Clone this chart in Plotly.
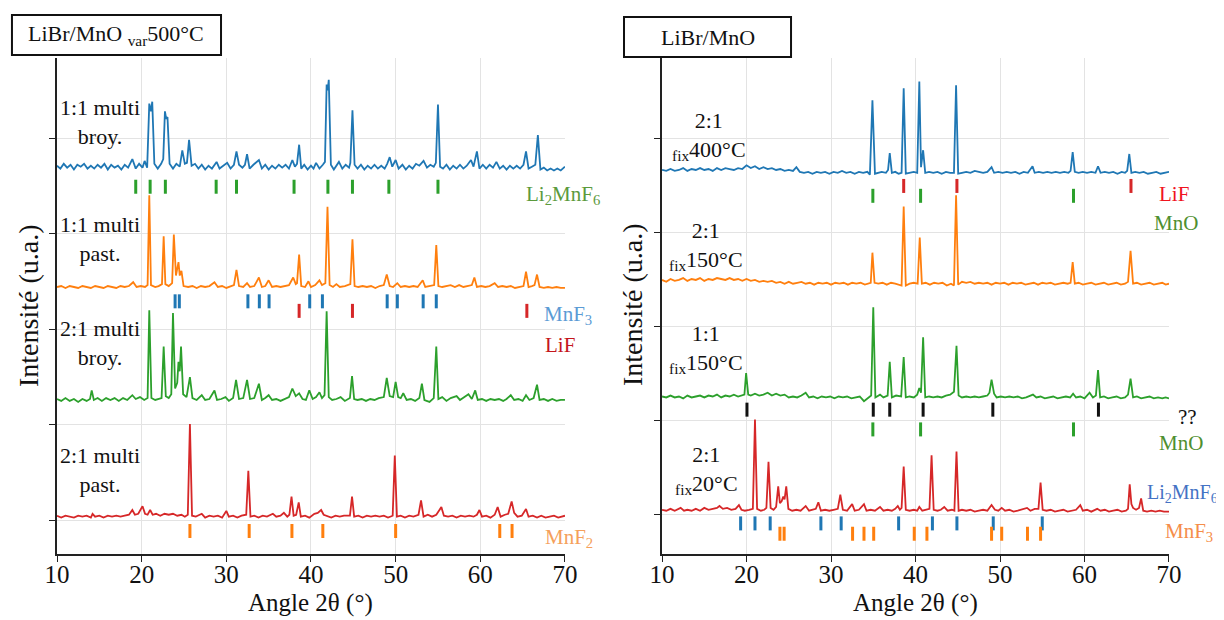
import plotly.graph_objects as go

# ---------------- data (2theta, intensity relative to each pattern's own baseline) -------------
# Left panel: LiBr/MnO var 500°C
L_11_BROY = [(10.0,.01),(10.4,-.02),(10.8,.03),(11.2,-.01),(11.6,.02),(12.0,-.03),(12.4,.02),(12.8,0),(13.2,.03),(13.6,-.02),
 (14.0,.01),(14.4,-.02),(14.8,.02),(15.2,-.01),(15.6,.03),(16.0,-.03),(16.4,.02),(16.8,-.01),(17.2,.01),(17.6,-.03),(18.0,.02),
 (18.4,-.01),(18.9,.08),(19.3,-.02),(19.7,.03),(20.1,-.01),(20.35,.06),(20.65,-.01),(20.9,.66),(21.1,.58),(21.25,.68),(21.5,.03),
 (21.9,-.02),(22.3,.03),(22.55,.08),(22.75,.58),(22.9,.50),(23.05,.52),(23.3,.03),(23.7,-.02),(24.1,.03),(24.5,0),(24.8,.17),
 (25.1,.03),(25.35,.04),(25.6,.28),(25.9,.01),(26.3,.03),(26.7,-.02),(27.1,.02),(27.5,-.03),(27.9,.01),(28.3,-.02),(28.85,.05),
 (29.2,-.02),(29.6,.01),(30.1,.04),(30.5,-.02),(30.9,.02),(31.2,.16),(31.5,.02),(31.9,-.01),(32.2,.02),(32.45,.13),(32.75,-.02),
 (33.2,.02),(33.85,.07),(34.2,-.02),(34.6,.02),(35.0,-.03),(35.4,.01),(35.8,-.02),(36.2,.02),(36.6,-.01),(37.0,.02),(37.4,-.02),
 (37.8,.07),(38.1,0),(38.35,.03),(38.6,.23),(38.85,-.02),(39.2,.02),(39.6,-.03),(40.0,.01),(40.3,-.02),(40.6,.04),(41.0,-.02),
 (41.4,.02),(41.65,.05),(41.85,.86),(41.98,.80),(42.1,.91),(42.35,.02),(42.7,-.03),(43.0,.01),(43.3,.05),(43.7,-.02),(44.1,.02),
 (44.5,-.01),(44.65,.04),(44.9,.59),(45.15,.02),(45.5,-.02),(45.9,.02),(46.3,-.03),(46.7,.01),(47.1,-.02),(47.5,.02),(47.9,-.02),
 (48.3,.01),(48.7,-.02),(49.0,.03),(49.3,.10),(49.6,0),(50.0,.07),(50.35,-.02),(50.8,.02),(51.2,-.03),(51.6,.01),(52.0,-.02),
 (52.4,.03),(52.8,.01),(53.3,.06),(53.7,-.01),(54.1,.02),(54.5,0),(54.75,.04),(55.0,.65),(55.25,0),(55.6,-.02),(56.0,.02),
 (56.4,-.03),(56.8,.01),(57.2,-.02),(57.6,.02),(58.0,-.02),(58.4,.01),(58.9,.07),(59.2,0),(59.6,.16),(59.9,-.02),(60.3,.02),
 (60.7,-.02),(61.1,.02),(61.5,-.01),(61.9,.05),(62.3,-.02),(62.7,.01),(63.1,-.03),(63.5,.01),(63.9,-.02),(64.3,.01),(64.7,-.02),
 (65.1,.02),(65.4,.16),(65.7,-.02),(66.1,0),(66.5,.02),(66.8,.33),(67.1,-.03),(67.5,-.01),(67.9,-.04),(68.3,-.02),(68.7,-.04),
 (69.1,-.02),(69.5,-.04),(70.0,0)]

L_11_PAST = [(10.0,0),(10.5,.01),(11.0,-.01),(11.5,.01),(12.0,0),(12.5,-.01),(13.0,.01),(13.5,0),(14.0,-.01),(14.5,.01),(15.0,0),
 (15.5,-.01),(16.0,.01),(16.5,0),(17.0,-.01),(17.5,.01),(18.0,0),(18.5,.01),(19.0,.05),(19.4,0),(19.9,.01),(20.4,0),(20.7,.02),
 (20.9,.96),(21.1,.02),(21.6,0),(22.0,.01),(22.4,.03),(22.6,.53),(22.8,.03),(23.2,.01),(23.6,.04),(23.8,.55),(24.05,.12),
 (24.35,.26),(24.5,.12),(24.7,.17),(24.95,.01),(25.5,0),(26.0,.01),(26.5,-.01),(27.0,.01),(27.5,0),(28.0,.01),(28.6,.05),(29.0,0),
 (29.5,.01),(30.0,-.01),(30.5,.01),(30.9,.02),(31.2,.18),(31.5,.01),(32.0,0),(32.45,.04),(32.8,0),(33.3,.01),(33.85,.10),(34.2,0),
 (34.6,.01),(35.0,.07),(35.4,0),(35.9,.01),(36.4,0),(36.9,.01),(37.4,.02),(37.9,.10),(38.2,.03),(38.35,.04),(38.6,.34),(38.85,.01),
 (39.3,0),(39.7,.06),(40.0,0),(40.5,.02),(41.0,.07),(41.3,.02),(41.7,.04),(41.95,.84),(42.2,.02),(42.6,0),(43.0,.03),(43.4,0),
 (44.0,.01),(44.65,.03),(44.9,.50),(45.15,.01),(45.6,0),(46.1,.01),(46.6,0),(47.1,.01),(47.6,-.01),(48.1,.01),(48.6,.02),
 (48.95,.13),(49.3,.01),(49.7,0),(50.2,.04),(50.6,0),(51.1,.01),(51.6,0),(52.1,.01),(52.6,0),(53.2,.07),(53.5,0),(54.0,.01),
 (54.55,.02),(54.8,.44),(55.05,.01),(55.5,0),(56.0,.01),(56.5,.02),(57.0,0),(57.5,.02),(58.0,0),(58.5,.01),(59.0,.02),(59.3,.10),
 (59.6,0),(60.1,.01),(60.6,0),(61.1,.01),(61.7,.04),(62.1,0),(62.6,.01),(63.1,0),(63.6,.01),(64.1,-.01),(64.6,0),(65.1,.01),
 (65.4,.16),(65.7,0),(66.1,.01),(66.4,.02),(66.7,.13),(67.0,0),(67.5,-.01),(68.0,0),(68.5,-.01),(69.0,0),(69.5,-.01),(70.0,-.01)]

L_21_BROY = [(10.0,.01),(10.5,-.01),(11.0,.02),(11.5,-.01),(12.0,.01),(12.5,-.02),(13.0,.01),(13.5,-.01),(13.9,.01),(14.1,.10),
 (14.35,0),(14.8,.02),(15.3,-.01),(15.8,.02),(16.3,0),(16.8,.02),(17.3,-.01),(17.8,.02),(18.3,0),(18.9,.05),(19.3,.01),(19.8,.03),
 (20.3,0),(20.7,.02),(20.9,.94),(21.15,.02),(21.6,0),(22.0,.01),(22.35,.02),(22.6,.56),(22.85,.04),(23.2,.02),(23.5,.06),(23.7,.91),
 (23.95,.12),(24.2,.18),(24.35,.40),(24.5,.30),(24.65,.56),(24.9,.06),(25.3,.03),(25.7,.24),(26.0,.02),(26.5,0),(27.1,.05),(27.5,0),
 (28.0,.01),(28.6,.10),(28.9,0),(29.4,.01),(29.9,.03),(30.3,-.01),(30.8,.02),(31.15,.21),(31.5,.01),(32.0,.02),(32.45,.21),
 (32.8,.01),(33.3,.02),(33.85,.17),(34.2,0),(34.6,.02),(35.0,.05),(35.4,0),(35.9,.01),(36.4,-.01),(36.9,.01),(37.4,.03),(37.8,.12),
 (38.2,.04),(38.6,.07),(39.0,.01),(39.4,0),(39.8,.10),(40.2,.01),(40.6,.03),(41.0,.08),(41.3,.02),(41.6,.05),(41.85,.93),(42.1,.03),
 (42.5,0),(43.0,.01),(43.5,.03),(44.0,-.01),(44.6,.02),(44.85,.25),(45.1,.01),(45.5,0),(46.0,.01),(46.5,-.01),(47.0,.01),(47.5,0),
 (48.0,.02),(48.6,.03),(48.95,.23),(49.3,.04),(49.7,.03),(50.0,.19),(50.3,.03),(50.6,.02),(50.9,.07),(51.3,0),(51.8,.01),
 (52.3,-.01),(52.8,.02),(53.1,.17),(53.4,0),(54.0,-.02),(54.5,.02),(54.8,.56),(55.05,.01),(55.5,.03),(56.0,-.01),(56.5,.02),
 (57.2,.04),(57.6,0),(58.1,.03),(58.6,.06),(59.0,.01),(59.4,.10),(59.7,0),(60.2,.01),(60.7,-.01),(61.2,.01),(61.7,0),(62.2,.01),
 (62.7,-.01),(63.1,.01),(63.6,.05),(64.0,0),(64.5,.01),(65.0,-.01),(65.4,.05),(65.8,0),(66.3,.02),(66.7,.16),(67.0,0),(67.5,.01),
 (68.0,-.01),(68.5,.01),(69.0,-.01),(69.5,0),(70.0,0)]

L_21_PAST = [(10.0,.01),(10.5,-.01),(11.0,.01),(11.5,0),(12.0,-.01),(12.5,.01),(13.0,0),(13.5,.01),(14.0,-.01),(14.2,.03),(14.5,0),
 (15.0,.01),(15.5,-.01),(16.0,.01),(16.5,0),(17.0,.01),(17.5,0),(18.0,.01),(18.5,.02),(18.9,.07),(19.2,.02),(19.6,.03),(20.1,.11),
 (20.4,.03),(20.7,.02),(21.0,.07),(21.3,.02),(21.7,.03),(22.2,.01),(22.7,.03),(23.2,.02),(23.7,.03),(24.2,.01),(24.7,.02),(25.1,0),
 (25.45,.02),(25.7,.97),(25.95,.01),(26.4,0),(27.1,.03),(27.5,-.01),(28.0,.01),(28.5,0),(29.0,.01),(29.5,-.01),(30.0,.06),(30.3,0),
 (30.8,.01),(31.3,-.01),(31.8,.01),(32.35,.02),(32.6,.48),(32.85,0),(33.3,.01),(33.8,-.01),(34.3,.01),(34.8,0),(35.5,.03),(35.9,0),
 (36.4,.01),(36.8,.04),(37.2,0),(37.45,.02),(37.7,.21),(37.95,.01),(38.25,.02),(38.55,.15),(38.8,0),(39.3,.01),(39.8,-.01),
 (40.4,.03),(40.8,.04),(41.2,.07),(41.5,.02),(41.9,.01),(42.4,-.01),(42.9,.01),(43.4,0),(43.9,.01),(44.6,.01),(44.85,.21),(45.1,0),
 (45.6,.01),(46.1,-.01),(46.6,.01),(47.1,0),(47.6,.01),(48.1,0),(48.6,.01),(49.1,-.01),(49.65,.01),(49.9,.64),(50.15,0),(50.6,.01),
 (51.1,-.01),(51.6,.01),(52.1,0),(52.7,.02),(53.0,.17),(53.3,0),(53.8,.02),(54.3,0),(54.8,.02),(55.4,.10),(55.7,.01),(56.2,0),
 (56.7,.01),(57.2,-.01),(57.7,.01),(58.2,0),(58.7,.01),(59.2,0),(59.6,.02),(59.9,.07),(60.2,0),(60.7,.01),(61.2,-.01),(61.7,.02),
 (62.05,.10),(62.4,0),(62.9,.02),(63.3,.03),(63.7,.16),(64.0,.04),(64.4,0),(64.9,.01),(65.4,.08),(65.7,0),(66.2,.01),(66.7,-.01),
 (67.2,.01),(67.7,-.01),(68.2,0),(68.7,.01),(69.2,-.01),(69.6,0),(70.0,.01)]

# Right panel: LiBr/MnO
R_21_400 = [(10.0,.03),(10.5,.02),(11.0,.04),(11.5,.02),(12.0,.03),(12.5,.05),(13.0,.02),(13.5,.04),(14.0,.03),(14.5,.05),
 (15.0,.03),(15.5,.04),(16.0,.02),(16.5,.05),(17.0,.03),(17.5,.05),(18.0,.04),(18.5,.03),(19.0,.05),(19.5,.04),(20.0,.08),
 (20.5,.05),(21.0,.07),(21.5,.04),(22.0,.06),(22.5,.04),(23.0,.05),(23.5,.03),(24.0,.04),(24.5,.02),(25.0,.03),(25.5,.02),
 (25.9,.06),(26.3,.01),(26.8,0),(27.3,.01),(27.8,-.01),(28.3,.01),(28.8,0),(29.3,.01),(29.8,-.01),(30.3,.01),(30.8,0),(31.3,.02),
 (31.8,0),(32.3,.01),(32.8,-.01),(33.3,.01),(33.8,0),(34.3,.01),(34.6,-.02),(34.9,.77),(35.2,-.01),(35.6,0),(36.0,.01),(36.5,0),
 (36.75,.03),(36.95,.21),(37.2,0),(37.6,.01),(38.0,-.01),(38.35,0),(38.6,.90),(38.85,-.01),(39.3,0),(39.8,.01),(40.2,0),
 (40.45,.97),(40.65,.06),(40.9,.24),(41.15,0),(41.6,.01),(42.1,0),(42.6,.01),(43.1,-.01),(43.6,.01),(44.1,0),(44.55,0),(44.8,.93),
 (45.05,-.01),(45.5,0),(46.0,.01),(46.5,0),(47.0,.02),(47.5,.01),(48.0,0),(48.5,.01),(49.0,.06),(49.3,0),(49.8,.01),(50.3,0),
 (50.8,.01),(51.3,0),(51.8,.01),(52.3,-.01),(52.8,.01),(53.3,0),(53.85,.07),(54.1,0),(54.6,.01),(55.1,0),(55.6,.01),(56.1,0),
 (56.6,.01),(57.1,0),(57.6,.01),(58.1,0),(58.35,.02),(58.6,.22),(58.85,.01),(59.3,0),(59.8,.01),(60.3,0),(60.8,.01),(61.3,0),
 (61.6,.07),(61.9,0),(62.4,.01),(62.9,0),(63.4,.01),(63.9,-.01),(64.4,.01),(64.8,0),(65.05,.02),(65.3,.20),(65.55,0),(66.0,.01),
 (66.5,0),(67.0,.01),(67.5,-.01),(68.0,0),(68.5,.01),(69.0,-.01),(69.5,0),(70.0,.01)]

R_21_150 = [(10.0,.04),(10.5,.02),(11.0,.05),(11.5,.03),(12.0,.04),(12.5,.06),(13.0,.03),(13.5,.05),(14.0,.04),(14.5,.06),
 (15.0,.03),(15.5,.05),(16.0,.04),(16.5,.06),(17.0,.05),(17.5,.04),(18.0,.06),(18.5,.04),(19.0,.05),(19.5,.03),(20.0,.05),
 (20.5,.03),(21.0,.04),(21.5,.02),(22.0,.03),(22.5,.02),(23.0,.03),(23.5,.01),(24.0,.02),(24.5,0),(25.0,.02),(25.5,0),(26.0,.01),
 (26.5,.02),(27.0,0),(27.5,.01),(28.0,-.01),(28.5,.01),(29.0,0),(29.5,.01),(30.0,-.01),(30.5,.01),(31.0,0),(31.5,.01),(32.0,-.01),
 (32.5,.01),(33.0,0),(33.5,.01),(34.0,-.01),(34.5,0),(34.7,.01),(34.9,.33),(35.15,.01),(35.6,0),(36.1,.01),(36.6,-.01),(37.1,.01),
 (37.6,0),(38.1,-.01),(38.35,-.02),(38.6,.82),(38.85,-.02),(39.3,0),(39.8,.01),(40.25,0),(40.5,.49),(40.75,0),(41.2,.01),
 (41.7,-.01),(42.2,.01),(42.7,0),(43.2,.01),(43.7,-.02),(44.2,0),(44.55,-.02),(44.8,.94),(45.05,-.01),(45.5,.02),(46.0,.01),
 (46.5,.02),(47.0,0),(47.5,.01),(48.0,0),(48.5,.01),(49.0,-.01),(49.5,.01),(50.0,0),(50.5,.01),(51.0,-.01),(51.5,.01),(52.0,0),
 (52.5,.01),(53.0,-.01),(53.5,0),(54.0,.01),(54.5,-.01),(55.0,.01),(55.5,0),(56.0,.01),(56.5,-.01),(57.0,0),(57.5,.01),(58.0,0),
 (58.35,.01),(58.6,.23),(58.85,0),(59.3,.01),(59.8,-.01),(60.3,0),(60.8,.01),(61.3,-.01),(61.8,0),(62.3,.01),(62.8,-.01),(63.3,0),
 (63.8,.01),(64.3,-.01),(64.8,0),(65.15,.02),(65.45,.35),(65.75,0),(66.2,.01),(66.7,-.01),(67.2,0),(67.7,.01),(68.2,-.01),
 (68.7,0),(69.2,.01),(69.6,-.01),(70.0,0)]

R_11_150 = [(10.0,.01),(10.5,0),(11.0,.02),(11.5,0),(12.0,.01),(12.5,-.01),(13.0,.02),(13.5,0),(14.0,.01),(14.5,.02),(15.0,0),
 (15.5,.02),(16.0,.01),(16.5,.03),(17.0,0),(17.5,.02),(18.0,.01),(18.5,.03),(19.0,.01),(19.5,.02),(19.75,.03),(19.95,.26),
 (20.2,.03),(20.5,.02),(21.0,.04),(21.5,.02),(22.0,.03),(22.5,.05),(23.0,.02),(23.5,.04),(24.0,.02),(24.5,.03),(25.0,0),(25.5,.01),
 (26.0,0),(26.5,.02),(27.0,.05),(27.4,0),(27.9,.01),(28.4,-.01),(28.9,.01),(29.4,0),(29.9,.01),(30.4,-.01),(30.9,.01),(31.4,0),
 (31.9,.01),(32.4,-.01),(32.9,0),(33.4,.01),(33.9,-.04),(34.3,-.01),(34.75,.02),(35.0,.96),(35.25,0),(35.8,.03),(36.2,0),
 (36.7,.02),(36.95,.38),(37.2,0),(37.7,.02),(38.3,.01),(38.6,.43),(38.85,0),(39.3,.01),(39.8,0),(40.2,.03),(40.45,.10),(40.65,.05),
 (40.9,.64),(41.15,0),(41.6,.01),(42.1,0),(42.6,.01),(43.1,0),(43.6,.02),(44.1,.03),(44.55,.06),(44.85,.55),(45.1,.02),(45.5,0),
 (46.0,.01),(46.5,0),(47.0,.01),(47.5,0),(48.0,.01),(48.5,.02),(48.75,.05),(49.0,.19),(49.3,.04),(49.6,0),(50.1,.01),(50.6,0),
 (51.1,.01),(51.6,0),(52.1,.01),(52.6,-.01),(53.1,0),(53.9,.03),(54.3,0),(54.8,.01),(55.3,-.01),(55.8,0),(56.3,.01),(56.8,-.01),
 (57.3,0),(57.8,.01),(58.3,0),(58.65,.04),(59.0,0),(59.5,.01),(60.0,-.01),(60.6,.05),(61.0,0),(61.35,.02),(61.6,.29),(61.85,0),
 (62.3,.01),(62.8,-.01),(63.3,0),(63.8,.01),(64.3,-.01),(64.8,0),(65.15,.03),(65.45,.20),(65.75,0),(66.2,.01),(66.7,-.01),
 (67.2,0),(67.7,.01),(68.2,-.01),(68.7,0),(69.2,-.01),(69.6,0),(70.0,-.01)]

R_21_20 = [(10.0,.01),(10.5,0),(11.0,.02),(11.5,0),(12.2,.03),(12.6,0),(13.0,.01),(13.5,0),(14.0,.02),(14.5,0),(15.0,.03),
 (15.5,.01),(16.0,.02),(16.5,.03),(16.8,.05),(17.2,.02),(17.7,.03),(18.2,.01),(18.7,.02),(19.1,.06),(19.4,.01),(19.8,0),(20.3,.01),
 (20.75,.02),(21.0,.97),(21.25,.02),(21.7,0),(22.1,.01),(22.35,.03),(22.6,.52),(22.85,.03),(23.2,.01),(23.5,.04),(23.75,.26),
 (23.95,.08),(24.15,.10),(24.35,.15),(24.5,.12),(24.7,.26),(24.95,.02),(25.4,0),(25.9,.01),(26.4,0),(27.0,.05),(27.4,0),(27.9,.01),
 (28.2,.02),(28.5,.09),(28.8,0),(29.3,.01),(29.8,0),(30.3,.01),(30.8,.02),(31.1,.17),(31.4,.01),(31.9,0),(32.5,.07),(32.8,0),
 (33.3,.01),(33.9,.07),(34.2,0),(34.7,.01),(35.2,0),(35.8,.04),(36.2,0),(36.7,.01),(37.2,0),(37.6,.02),(37.9,.05),(38.15,.01),
 (38.35,.03),(38.6,.47),(38.85,.01),(39.3,0),(39.8,.01),(40.2,0),(40.45,.04),(40.8,0),(41.3,.01),(41.65,.02),(41.9,.59),
 (42.15,.01),(42.6,0),(43.0,.01),(43.4,.04),(43.8,0),(44.3,.01),(44.6,0),(44.85,.63),(45.1,0),(45.5,.01),(46.0,0),(46.5,.01),
 (47.0,-.01),(47.5,0),(48.0,.01),(48.5,0),(49.0,.06),(49.4,.01),(49.8,0),(50.2,.03),(50.6,0),(51.1,.01),(51.6,-.01),(52.1,0),
 (52.6,.01),(53.2,.03),(53.6,0),(54.1,.02),(54.55,.02),(54.8,.30),(55.05,.01),(55.5,0),(56.0,.01),(56.5,-.01),(57.0,0),(57.5,.01),
 (58.0,-.01),(58.5,0),(59.0,.01),(59.5,.06),(59.8,0),(60.3,.01),(60.8,-.01),(61.5,.02),(61.9,0),(62.4,.01),(62.9,-.01),(63.4,0),
 (63.9,.01),(64.4,-.01),(64.9,0),(65.15,.02),(65.35,.28),(65.55,.07),(65.75,.03),(66.1,.01),(66.45,.03),(66.7,.13),(66.95,0),
 (67.4,-.01),(67.9,0),(68.4,-.01),(68.9,0),(69.4,-.01),(70.0,-.01)]

# Reference phase positions (2theta)
LI2MNF6 = [19.3, 21.0, 22.8, 28.8, 31.2, 38.0, 42.0, 44.9, 49.2, 55.0]
MNF3 = [23.95, 24.45, 32.55, 33.9, 35.05, 39.85, 41.35, 49.0, 50.2, 53.25, 54.8]
LIF = [38.6, 44.9, 65.5]
MNF2 = [25.7, 32.7, 37.75, 41.4, 50.0, 62.3, 63.75]
MNO = [34.95, 40.6, 58.7]
UNKNOWN = [20.05, 35.0, 36.95, 40.9, 49.15, 61.65]

X_TICKS = [10, 20, 30, 40, 50, 60, 70]

# ---------------- styling / layout ----------------
BLUE, ORANGE, GREEN, RED = "#1f77b4", "#ff7f0e", "#2ca02c", "#d62728"
FONT = "Liberation Serif, DejaVu Serif, serif"

fig = go.Figure()

def add_pattern(pts, color, offset, xa, ya):
    fig.add_trace(go.Scatter(x=[p[0] for p in pts], y=[p[1] + offset for p in pts], mode="lines",
                             line=dict(color=color, width=1.8), xaxis=xa, yaxis=ya,
                             showlegend=False, hoverinfo="skip"))

def add_phase(positions, level, color, xa, ya):
    fig.add_trace(go.Scatter(x=positions, y=[level] * len(positions), mode="markers",
                             marker=dict(symbol="line-ns", size=10, line=dict(color=color, width=3)),
                             xaxis=xa, yaxis=ya, showlegend=False, hoverinfo="skip"))

# left panel
add_pattern(L_11_BROY, BLUE, 3.70, "x", "y")
add_pattern(L_11_PAST, ORANGE, 2.44, "x", "y")
add_pattern(L_21_BROY, GREEN, 1.257, "x", "y")
add_pattern(L_21_PAST, RED, 0.035, "x", "y")
add_phase(LI2MNF6, 3.49, GREEN, "x", "y")
add_phase(MNF3, 2.29, BLUE, "x", "y")
add_phase(LIF, 2.19, RED, "x", "y")
add_phase(MNF2, -0.115, ORANGE, "x", "y")

# right panel
add_pattern(R_21_400, BLUE, 3.63, "x2", "y2")
add_pattern(R_21_150, ORANGE, 2.45, "x2", "y2")
add_pattern(R_11_150, GREEN, 1.24, "x2", "y2")
add_pattern(R_21_20, RED, 0.035, "x2", "y2")
add_phase(LIF, 3.49, RED, "x2", "y2")
add_phase(MNO, 3.385, GREEN, "x2", "y2")
add_phase(UNKNOWN, 1.11, "#111111", "x2", "y2")
add_phase(MNO, 0.90, GREEN, "x2", "y2")
add_phase(LI2MNF6, -0.10, BLUE, "x2", "y2")
add_phase(MNF3, -0.21, ORANGE, "x2", "y2")

axis_common = dict(showline=True, linecolor="#222", linewidth=1.6, mirror=False, zeroline=False,
                   showgrid=True, gridcolor="#e3e3e3", gridwidth=1, ticks="outside", tickcolor="#222",
                   ticklen=6, tickwidth=1.4)
xcommon = dict(axis_common, range=[10, 70], tickvals=X_TICKS, ticktext=[str(v) for v in X_TICKS],
               tickfont=dict(family=FONT, size=25, color="#111"), ticklabelstandoff=-9)
ycommon = dict(axis_common, tickvals=[0, 1, 2, 3, 4], showticklabels=False)

# the page body adds an 8px margin, so the figure is sized/offset to compensate
fig.update_layout(
    width=1216, height=612,
    margin=dict(l=49, r=55, t=50, b=66),
    paper_bgcolor="white", plot_bgcolor="white",
    font=dict(family=FONT, color="#111"),
    xaxis=dict(xcommon, domain=[0, 0.4568], anchor="y"),
    yaxis=dict(ycommon, domain=[0, 1], anchor="x", range=[-0.356, 4.838]),
    xaxis2=dict(xcommon, domain=[0.5441, 1.0], anchor="y2"),
    yaxis2=dict(ycommon, domain=[0, 1], anchor="x2", range=[-0.4255, 4.851]),
)

ann = []
def label(text, x, y, xref, yref, color="#111", size=22, xanchor="center", **kw):
    ann.append(dict(text=text, x=x, y=y, xref=xref, yref=yref, showarrow=False,
                    font=dict(family=FONT, size=size, color=color), xanchor=xanchor, yanchor="middle", **kw))

# sample labels
label("1:1 multi<br>broy.", 15.1, 4.17, "x", "y")
label("1:1 multi<br>past.", 15.1, 2.94, "x", "y")
label("2:1 multi<br>broy.", 15.1, 1.85, "x", "y")
label("2:1 multi<br>past.", 15.1, 0.52, "x", "y")
label("2:1<br><sub>fix</sub>400°C", 15.6, 4.02, "x2", "y2")
label("2:1<br><sub>fix</sub>150°C", 15.2, 2.85, "x2", "y2")
label("1:1<br><sub>fix</sub>150°C", 15.2, 1.76, "x2", "y2")
label("2:1<br><sub>fix</sub>20°C", 15.3, 0.47, "x2", "y2")

# phase labels (paper coordinates, right of each panel)
label("Li<sub>2</sub>MnF<sub>6</sub>", 0.4550, 0.7232, "paper", "paper", color="#5b9a3c", size=21)
label("MnF<sub>3</sub>", 0.4591, 0.4825, "paper", "paper", color="#5b9bd5", size=21)
label("LiF", 0.4519, 0.4210, "paper", "paper", color="#c4161c", size=21)
label("MnF<sub>2</sub>", 0.4604, 0.0320, "paper", "paper", color="#f5a05a", size=21)
label("LiF", 1.0045, 0.7250, "paper", "paper", color="#f0141e", size=21)
label("MnO", 1.0063, 0.6680, "paper", "paper", color="#4f8f2f", size=21)
label("??", 1.0165, 0.2758, "paper", "paper", color="#111", size=21)
label("MnO", 1.0112, 0.2238, "paper", "paper", color="#4f8f2f", size=21)
label("Li<sub>2</sub>MnF<sub>6</sub>", 1.046, 0.1224, "paper", "paper", color="#4472c4", size=20, xanchor="right")
label("MnF<sub>3</sub>", 1.0180, 0.0444, "paper", "paper", color="#f58d4a", size=21)

# axis titles
label("Angle 2θ (°)", 0.2284, -0.0988, "paper", "paper", size=25)
label("Angle 2θ (°)", 0.7720, -0.0988, "paper", "paper", size=25)
label("Intensité (u.a.)", -0.0261, 0.502, "paper", "paper", size=28, textangle=-90)
label("Intensité (u.a.)", 0.5171, 0.502, "paper", "paper", size=28, textangle=-90)

# title boxes
label("LiBr/MnO <sub>var</sub>500°C", 0.0535, 1.046, "paper", "paper", size=22)
label("LiBr/MnO", 0.585, 1.042, "paper", "paper", size=22)

fig.update_layout(annotations=ann, shapes=[
    dict(type="rect", xref="paper", yref="paper", x0=-0.0405, x1=0.1475, y0=1.006, y1=1.0867,
         line=dict(color="#111", width=2), fillcolor="rgba(0,0,0,0)", layer="above"),
    dict(type="rect", xref="paper", yref="paper", x0=0.5099, x1=0.6601, y0=1.002, y1=1.0827,
         line=dict(color="#111", width=2), fillcolor="rgba(0,0,0,0)", layer="above"),
])

fig.write_html("out.html")
